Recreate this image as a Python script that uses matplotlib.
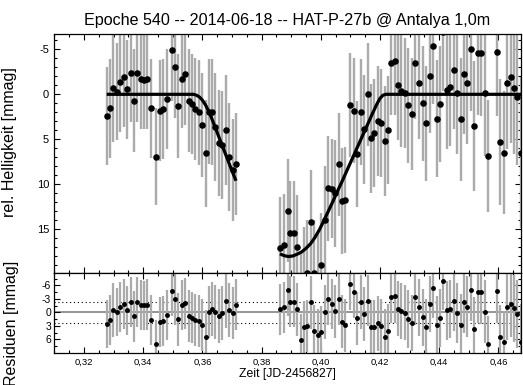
import matplotlib
matplotlib.use("Agg")
import matplotlib.pyplot as plt
from matplotlib.ticker import MultipleLocator, FuncFormatter

plt.rcParams['font.family'] = ['Liberation Sans', 'DejaVu Sans']
plt.rcParams['axes.unicode_minus'] = False

title = "Epoche 540 -- 2014-06-18 -- HAT-P-27b @ Antalya 1,0m"
xlabel = "Zeit [JD-2456827]"
ylabel_top = "rel. Helligkeit [mmag]"
ylabel_bot = "Residuen [mmag]"

# --- first block of observations ---
t1 = [0.32767, 0.32889, 0.32990, 0.33115, 0.33226, 0.33341, 0.33463, 0.33578, 0.33689, 0.33801,
      0.33916, 0.34027, 0.34139, 0.34254, 0.34432, 0.34557, 0.34679, 0.34794, 0.34963, 0.35074,
      0.35186, 0.35301, 0.35422, 0.35547, 0.35659, 0.35760, 0.35875, 0.36003, 0.36111, 0.36223,
      0.36335, 0.36436, 0.36551, 0.36672, 0.36787, 0.36899, 0.37017, 0.37135]
mag1 = [2.41, 1.56, -0.66, -0.3, -1.33, -1.96, -0.55, -2.4, 0.71, -2.4,
        -1.7, -1.59, -1.7, 1.56, 6.93, 1.82, 1.63, 0.52, -4.92, -3.0,
        1.3, -1.73, -2.22, 0.71, 1.08, 1.63, 2.0, 3.41, 6.56, 1.93,
        1.93, 3.6, 5.37, 5.63, 3.97, 7.0, 8.41, 7.74]
res1 = [2.6, 1.71, -0.51, -0.07, -1.25, -1.84, -0.44, -2.29, 0.89, -2.29,
        -1.7, -1.55, -1.7, 1.71, 7.04, 2.09, 1.87, 0.6, -4.8, -2.89,
        1.56, -1.62, -2.0, 0.82, 1.19, 1.71, 1.93, 2.82, 5.4, -0.07,
        -0.73, -0.07, 0.82, 0.15, -2.59, -0.44, 0.15, -1.7]
err1 = [5.4, 5.5, 5.9, 5.4, 5.5, 5.6, 5.5, 5.5, 5.7, 5.5,
        5.5, 5.4, 5.6, 5.5, 5.4, 5.6, 5.5, 5.6, 5.7, 5.6,
        5.8, 5.5, 5.6, 5.7, 5.6, 5.7, 5.8, 5.8, 5.9, 5.8,
        5.9, 6.0, 5.9, 6.0, 6.1, 6.0, 5.7, 5.65]

# --- second block of observations ---
t2 = [0.38622, 0.38740, 0.38875, 0.38976, 0.39088, 0.39206, 0.39331, 0.39432, 0.39544, 0.39669,
      0.39780, 0.39905, 0.40017, 0.40135, 0.40253, 0.40368, 0.40480, 0.40601, 0.40706, 0.40834,
      0.40986, 0.41115, 0.41236, 0.41348, 0.41466, 0.41578, 0.41696, 0.41807, 0.41922, 0.42034,
      0.42155, 0.42270, 0.42378, 0.42497, 0.42608, 0.42720, 0.42834, 0.42956, 0.43071, 0.43193,
      0.43307, 0.43446, 0.43564, 0.43679, 0.43801, 0.43919, 0.44034, 0.44145, 0.44257, 0.44375,
      0.44493, 0.44608, 0.44720, 0.44838, 0.44956, 0.45081, 0.45186, 0.45297, 0.45422, 0.45537,
      0.45652, 0.45953, 0.46064, 0.46186, 0.46301, 0.46426, 0.46534, 0.46645, 0.46780]
mag2 = [17.1, 16.74, 12.93, 15.37, 15.37, 16.93, 23.4, 20.5, 19.8, 14.15,
        19.8, 21.1, 18.97, 13.9, 10.45, 10.48, 11.0, 7.78, 11.82, 11.74,
        1.19, 1.82, 6.63, 1.93, 3.9, 0.0, 4.9, 4.26, 2.93, 3.15,
        5.19, 3.97, -3.52, -3.7, -1.03, -0.37, -0.18, 1.22, 2.19, -3.52,
        -1.29, 1.0, 3.22, -2.03, -5.37, 2.7, 1.08, -6.9, -0.48, -0.78,
        -2.7, -0.1, 2.78, -2.29, -1.29, -5.0, 3.52, -4.55, -4.55, -0.18,
        6.85, -4.74, 5.26, 6.48, -1.22, -1.96, -0.74, 0.26, 6.48]
res2 = [-0.67, -1.1, -4.96, -2.36, -2.36, -0.67, 6.16, 3.34, 3.04, -2.21,
        4.08, 5.12, 4.38, -0.07, -2.89, -1.92, -0.22, -2.89, 2.08, 2.89,
        -6.29, -4.51, 1.33, -2.29, 0.38, -2.58, 3.19, 3.19, 2.44, 3.04,
        5.42, 4.22, -3.47, -3.62, -0.81, -0.29, 0.09, 1.42, 2.31, -3.47,
        -1.11, 1.11, 3.34, -1.84, -5.33, 2.89, 1.19, -6.96, -0.44, -0.75,
        -2.55, 0.09, 2.82, -2.21, -1.25, -4.96, 3.78, -4.44, -4.44, -0.1,
        7.04, -4.81, 5.42, 6.6, -1.11, -1.84, -0.89, 0.38, 6.53]
err2 = [5.7, 5.7, 5.7, 5.7, 5.7, 5.8, 5.8, 5.8, 5.8, 5.8,
        5.8, 5.9, 5.8, 5.9, 5.8, 5.5, 5.9, 5.7, 5.9, 5.9,
        5.8, 5.8, 5.9, 5.9, 6.0, 5.7, 6.0, 6.0, 6.1, 6.0,
        6.1, 6.0, 5.8, 6.0, 6.1, 6.2, 6.1, 6.4, 6.2, 6.3,
        6.3, 6.4, 6.4, 6.3, 6.5, 6.5, 6.4, 6.5, 6.6, 6.5,
        6.6, 6.7, 6.8, 6.7, 6.8, 6.9, 7.2, 6.9, 7.0, 7.0,
        6.2, 7.2, 7.0, 6.8, 7.3, 7.4, 7.4, 7.6, 8.4]

# --- fitted transit model (two segments) ---
model_t1 = [0.32767, 0.3570, 0.3580, 0.3590, 0.3600, 0.3610, 0.3620, 0.3630, 0.3640, 0.3650,
            0.3660, 0.3670, 0.3680, 0.3690, 0.3700, 0.37135]
model_m1 = [0.0, 0.0, 0.1, 0.3, 0.65, 1.15, 1.8, 2.55, 3.4, 4.25,
            5.1, 5.95, 6.8, 7.65, 8.5, 9.6]
model_t2 = [0.38622, 0.3875, 0.3890, 0.3905, 0.3920, 0.3935, 0.3950, 0.3965, 0.3980, 0.3995,
            0.4010, 0.4025, 0.4040, 0.4055, 0.4070, 0.4085, 0.4100, 0.4115, 0.4130, 0.4145,
            0.4160, 0.4175, 0.4190, 0.4200, 0.4210, 0.4220, 0.46780]
model_m2 = [17.7, 17.9, 18.0, 17.95, 17.75, 17.5, 17.1, 16.6, 15.9, 15.05,
            14.05, 13.0, 11.95, 10.85, 9.8, 8.7, 7.6, 6.5, 5.4, 4.3,
            3.2, 2.1, 1.05, 0.45, 0.1, 0.0, 0.0]

resid_rms = 2.37

W, H = 523, 385
fig = plt.figure(figsize=(W / 100, H / 100), dpi=100)
L, R = 54 / W, 521 / W
ax = fig.add_axes([L, 1 - 272.7 / H, R - L, (272.7 - 33.5) / H])
axr = fig.add_axes([L, 1 - 352.5 / H, R - L, (352.5 - 272.7) / H])

bar_col = '#ababab'
for (tt, mm, ee) in [(t1, mag1, err1), (t2, mag2, err2)]:
    ax.errorbar(tt, mm, yerr=ee, fmt='o', color='black', ms=3.7, mec='black',
                ecolor=bar_col, elinewidth=1.7, capsize=0, zorder=2)
ax.plot(model_t1, model_m1, color='black', lw=2.3, zorder=3, solid_capstyle='butt')
ax.plot(model_t2, model_m2, color='black', lw=2.3, zorder=3, solid_capstyle='butt')

axr.axhline(0, color='#8c8c8c', lw=1.3, zorder=1)
axr.axhline(-resid_rms, color='black', lw=0.8, ls=(0, (1, 2.5)), zorder=1)
axr.axhline(resid_rms, color='black', lw=0.8, ls=(0, (1, 2.5)), zorder=1)
for (tt, rr, ee) in [(t1, res1, err1), (t2, res2, err2)]:
    axr.errorbar(tt, rr, yerr=ee, fmt='o', color='black', ms=2.5, mec='black',
                 ecolor=bar_col, elinewidth=1.6, capsize=0, zorder=2)

xmin, xmax = 0.30986, 0.46764
for a in (ax, axr):
    a.set_xlim(xmin, xmax)
    a.xaxis.set_major_locator(MultipleLocator(0.02))
    a.xaxis.set_minor_locator(MultipleLocator(0.005))
    a.tick_params(which='both', direction='in', top=True, right=True, width=0.8)
    a.tick_params(which='major', length=4)
    a.tick_params(which='minor', length=2.2)
    for s in a.spines.values():
        s.set_linewidth(0.9)

ax.set_ylim(19.8, -6.75)
ax.yaxis.set_major_locator(MultipleLocator(5))
ax.yaxis.set_minor_locator(MultipleLocator(1))
ax.tick_params(axis='x', labelbottom=False)
ax.tick_params(axis='y', labelsize=8)

axr.set_ylim(8.9, -8.8)
axr.yaxis.set_major_locator(MultipleLocator(3))
axr.yaxis.set_minor_locator(MultipleLocator(1.5))
axr.tick_params(axis='y', labelsize=7.5, pad=2)
axr.tick_params(axis='x', labelsize=6.8, pad=4)
axr.xaxis.set_major_formatter(FuncFormatter(lambda v, p: f"{v:.2f}".replace('.', ',')))

ax.set_title(title, fontsize=11.6, pad=6)
ax.set_ylabel(ylabel_top, fontsize=11.5)
ax.yaxis.set_label_coords(-0.080, 0.546)
axr.set_ylabel(ylabel_bot, fontsize=11.5)
axr.yaxis.set_label_coords(-0.075, 0.37)
axr.set_xlabel(xlabel, fontsize=8.8, labelpad=1)

fig.savefig("out.png", dpi=100)
